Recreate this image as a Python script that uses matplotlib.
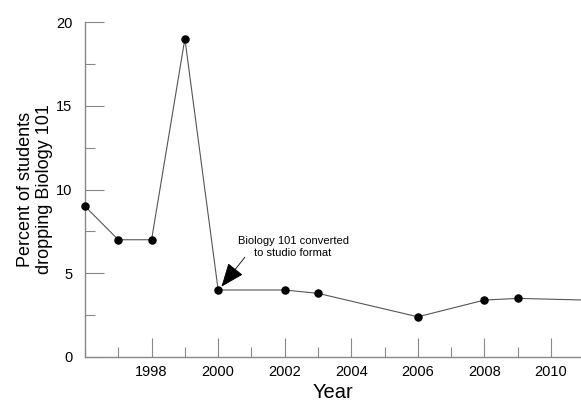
import matplotlib
matplotlib.use("Agg")
import matplotlib.pyplot as plt
from matplotlib.ticker import MultipleLocator

plt.rcParams['font.family'] = ['Liberation Sans', 'DejaVu Sans']

years = [1996, 1997, 1998, 1999, 2000, 2002, 2003, 2006, 2008, 2009, 2011]
percent = [9.0, 7.0, 7.0, 19.0, 4.0, 4.0, 3.8, 2.4, 3.4, 3.5, 3.4]
marker_years = years[:-1]
marker_percent = percent[:-1]
xtick_labels = ['1998', '2000', '2002', '2004', '2006', '2008', '2010']

fig = plt.figure(figsize=(5.81, 4.05), dpi=100)
ax = fig.add_axes([85/581, 48/405, (581-85)/581, (357-22)/405])

ax.plot(years, percent, color='#555555', lw=0.8, zorder=2)
ax.scatter(marker_years, marker_percent, s=26, color='black', zorder=3, clip_on=False)

ax.set_xlim(1996, 2010.9)
ax.set_ylim(0, 20)
ax.set_xticks([int(t) for t in xtick_labels])
ax.set_xticklabels(xtick_labels)
ax.xaxis.set_minor_locator(MultipleLocator(1))
ax.yaxis.set_major_locator(MultipleLocator(5))
ax.yaxis.set_minor_locator(MultipleLocator(2.5))

for s in ['top', 'right']:
    ax.spines[s].set_visible(False)
for s in ['left', 'bottom']:
    ax.spines[s].set_color('#888888')
    ax.spines[s].set_linewidth(1.0)

ax.tick_params(axis='both', which='major', direction='in', length=14, color='#888888',
               labelsize=10.5, width=0.8)
ax.tick_params(axis='both', which='minor', direction='in', length=7, color='#888888', width=0.8)
ax.tick_params(axis='y', which='major', pad=9)
ax.tick_params(axis='x', which='major', pad=6)

ax.set_xlabel('Year', fontsize=14.5, labelpad=3)
ax.set_ylabel('Percent of students\ndropping Biology 101', fontsize=13, labelpad=2)

ax.text(2002.25, 6.55, 'Biology 101 converted\nto studio format', ha='center', va='center',
        fontsize=8, linespacing=1.25)
ax.annotate('', xy=(2000.1, 4.2), xytext=(2000.8, 5.95),
            arrowprops=dict(arrowstyle='-|>,head_length=1.5,head_width=0.6', color='black',
                            lw=0.6, shrinkA=0, shrinkB=0))

fig.savefig('out.png', dpi=100)
